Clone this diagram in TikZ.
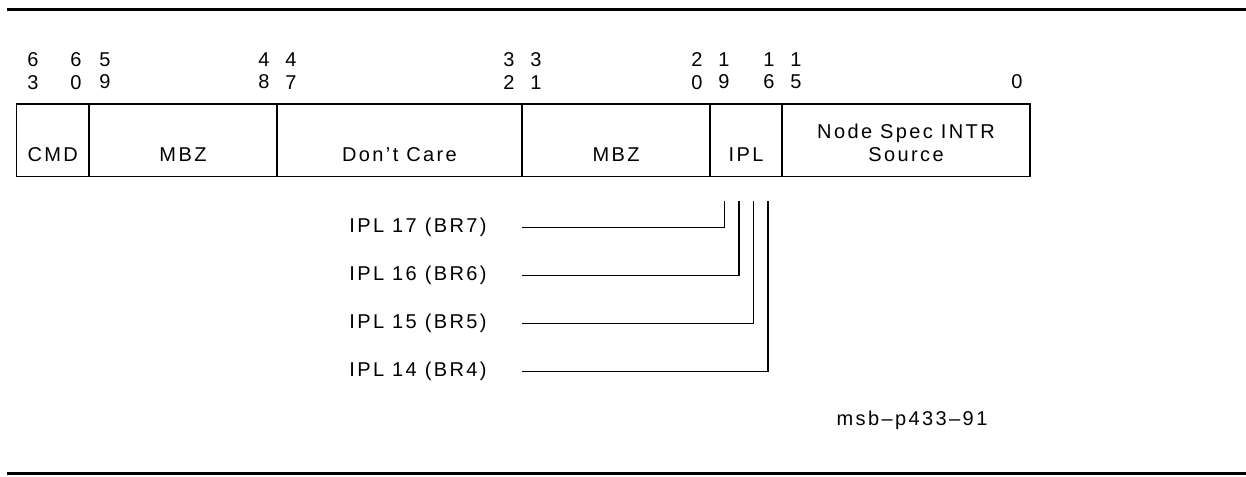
\documentclass[tikz,border=0pt]{standalone}
\usepackage{fontspec}
\setmainfont{Liberation Sans}[LetterSpace=12]
\usetikzlibrary{positioning}

\begin{document}
\begin{tikzpicture}[x=0.5pt,y=-0.5pt,
	every node/.style={font=\fontsize{10}{11.2}\selectfont, inner sep=0pt},
	field/.style={draw, line width=0.7pt, outer sep=0pt, minimum height=36.25pt, anchor=north west},
	fieldlbl/.style={align=center},
	bitno/.style={align=center},
	wire/.style={line width=0.9pt},
	rule/.style={line width=1.5pt}]
\useasboundingbox (0,0) rectangle (1246,476);
\draw[rule](7,10)--(1246,10) (7,473.5)--(1246,473.5);

% register fields
\node[field, minimum width=36.25pt] (cmd) at (16.5,104) {};
\node[field, minimum width=94pt, right=0pt of cmd] (mbz1) {};
\node[field, minimum width=122.5pt, right=0pt of mbz1] (dc) {};
\node[field, minimum width=94pt, right=0pt of dc] (mbz2) {};
\node[field, minimum width=36pt, right=0pt of mbz2] (ipl) {};
\node[field, minimum width=124pt, right=0pt of ipl] (src) {};

\node[fieldlbl, above=7.3pt of cmd.south] (cmdtxt) {CMD};
\node[fieldlbl, above=7.3pt of mbz1.south] (mbz1txt) {MBZ};
\node[fieldlbl, above=7.3pt of dc.south] (dctxt) {Don't Care};
\node[fieldlbl, above=7.3pt of mbz2.south] (mbz2txt) {MBZ};
\node[fieldlbl, above=7.3pt of ipl.south] (ipltxt) {IPL};
\node[fieldlbl, above=7.3pt of src.south] (srctxt) {Node Spec INTR\\Source};

% bit numbers
\path (33,71)node[bitno](b63){6\\3} (76,71)node[bitno](b60){6\\0} (105,71)node[bitno](b59){5\\9}
	(264,71)node[bitno](b48){4\\8} (291,71)node[bitno](b47){4\\7}
	(509,71)node[bitno](b32){3\\2} (536,71)node[bitno](b31){3\\1}
	(697,71)node[bitno](b20){2\\0} (724,71)node[bitno](b19){1\\9}
	(769,71)node[bitno](b16){1\\6} (796,71)node[bitno](b15){1\\5}
	(1017,82)node[bitno](b0){0};

% interrupt levels
\node[anchor=west] (l17) at (349,227.5) {IPL 17 (BR7)};
\node[anchor=west] (l16) at (349,275.5) {IPL 16 (BR6)};
\node[anchor=west] (l15) at (349,323.5) {IPL 15 (BR5)};
\node[anchor=west] (l14) at (349,371.5) {IPL 14 (BR4)};
\coordinate (t17) at (724.5,200.5);
\coordinate (t16) at (739,200.5);
\coordinate (t15) at (753.5,200.5);
\coordinate (t14) at (768,200.5);
\draw[wire] (l17-|mbz2.west)-|(t17) (l16-|mbz2.west)-|(t16)
	(l15-|mbz2.west)-|(t15) (l14-|mbz2.west)-|(t14);

\node (tag) at (912,420) {msb--p433--91};
\end{tikzpicture}
\end{document}
